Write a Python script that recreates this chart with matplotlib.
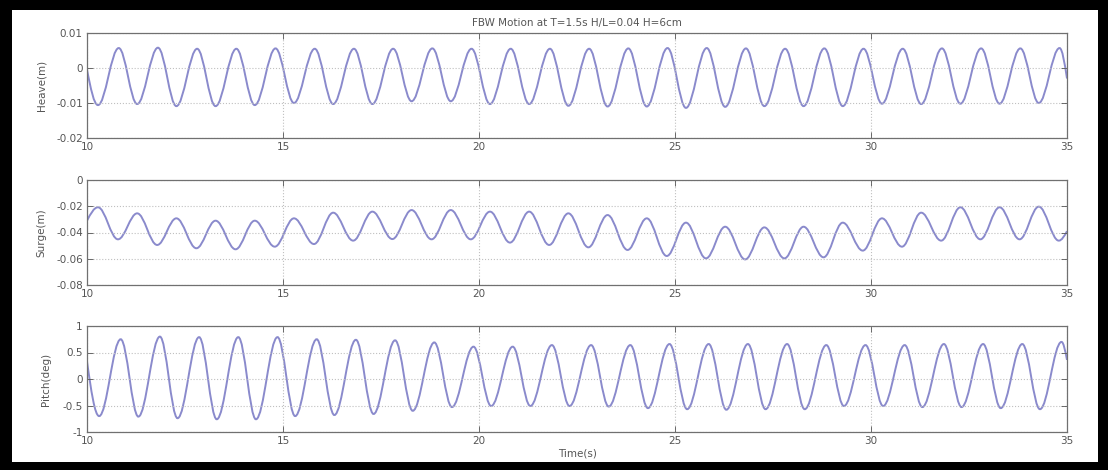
import matplotlib

matplotlib.use("Agg")
import matplotlib.pyplot as plt
import numpy as np
from matplotlib.patches import PathPatch, Rectangle
from matplotlib.path import Path

T_START = 10.0
T_END = 35.0
CYCLE = 1.0

# heave [m]
heave_start = -0.0005
heave_end = -0.003
heave_first_trough = 10.28
heave_first_peak = 10.81
heave_troughs = [
    -0.0106, -0.0103, -0.0109, -0.0109, -0.0106, -0.0100, -0.0103, -0.0103,
    -0.0095, -0.0095, -0.0103, -0.0103, -0.0108, -0.0110, -0.0110, -0.0114,
    -0.0111, -0.0109, -0.0109, -0.0109, -0.0102, -0.0103, -0.0102, -0.0102,
    -0.0100,
]
heave_peaks = [
    0.0057, 0.0058, 0.0055, 0.0055, 0.0056, 0.0055, 0.0055, 0.0055,
    0.0056, 0.0055, 0.0055, 0.0055, 0.0055, 0.0056, 0.0057, 0.0057,
    0.0056, 0.0055, 0.0056, 0.0055, 0.0055, 0.0056, 0.0056, 0.0056,
    0.0057,
]

# surge [m]
surge_start = -0.031
surge_end = -0.039
surge_first_peak = 10.28
surge_first_trough = 10.79
surge_peaks = [
    -0.0208, -0.0254, -0.0292, -0.0310, -0.0310, -0.0292, -0.0249, -0.0241,
    -0.0229, -0.0229, -0.0241, -0.0241, -0.0254, -0.0267, -0.0292, -0.0325,
    -0.0356, -0.0361, -0.0356, -0.0325, -0.0292, -0.0249, -0.0208, -0.0208,
    -0.0203,
]
surge_troughs = [
    -0.0452, -0.0495, -0.0520, -0.0528, -0.0508, -0.0488, -0.0462, -0.0450,
    -0.0452, -0.0452, -0.0477, -0.0495, -0.0513, -0.0533, -0.0579, -0.0597,
    -0.0605, -0.0597, -0.0589, -0.0538, -0.0508, -0.0462, -0.0452, -0.0452,
    -0.0462,
]

# pitch [deg]
pitch_start = 0.33
pitch_end = 0.36
pitch_first_trough = 10.31
pitch_first_peak = 10.86
pitch_troughs = [
    -0.70, -0.71, -0.74, -0.76, -0.76, -0.70, -0.68, -0.66,
    -0.60, -0.53, -0.51, -0.51, -0.51, -0.52, -0.55, -0.57,
    -0.58, -0.57, -0.57, -0.51, -0.51, -0.53, -0.53, -0.55,
    -0.57,
]
pitch_peaks = [
    0.75, 0.80, 0.79, 0.79, 0.79, 0.75, 0.74, 0.73,
    0.69, 0.61, 0.61, 0.64, 0.64, 0.64, 0.66, 0.66,
    0.66, 0.66, 0.64, 0.64, 0.64, 0.66, 0.66, 0.66,
    0.70,
]

x_ticks = [10, 15, 20, 25, 30, 35]
heave_ticks = [-0.02, -0.01, 0, 0.01]
heave_labels = ["-0.02", "-0.01", "0", "0.01"]
surge_ticks = [-0.08, -0.06, -0.04, -0.02, 0]
surge_labels = ["-0.08", "-0.06", "-0.04", "-0.02", "0"]
pitch_ticks = [-1, -0.5, 0, 0.5, 1]
pitch_labels = ["-1", "-0.5", "0", "0.5", "1"]

LINE_COLOUR = "#8a8acc"
TEXT_COLOUR = "#555555"
FONT_SIZE = 7.5
W, H = 1108, 470

# bezier handle for a half cosine between two extrema
K = 0.363


def wave_path(start, first_a, vals_a, first_b, vals_b, end):
    times = np.concatenate(
        [first_a + CYCLE * np.arange(len(vals_a)), first_b + CYCLE * np.arange(len(vals_b))]
    )
    values = np.concatenate([vals_a, vals_b])
    order = np.argsort(times)
    ts = [T_START] + list(times[order]) + [T_END]
    ys = [start] + list(values[order]) + [end]
    flat = [False] + [True] * len(order) + [False]

    verts = [(ts[0], ys[0])]
    codes = [Path.MOVETO]
    for i in range(len(ts) - 1):
        t0, t1, y0, y1 = ts[i], ts[i + 1], ys[i], ys[i + 1]
        dt, dy = t1 - t0, y1 - y0
        c1 = (t0 + K * dt, y0) if flat[i] else (t0 + dt / 3, y0 + 0.52 * dy)
        c2 = (t1 - K * dt, y1) if flat[i + 1] else (t1 - dt / 3, y1 - 0.52 * dy)
        verts += [c1, c2, (t1, y1)]
        codes += [Path.CURVE4] * 3
    return Path(verts, codes)


def style_axis(ax, ylim, yticks, ylabels, ylabel, label_x):
    ax.set_xlim(T_START, T_END)
    ax.set_ylim(*ylim)
    ax.set_xticks(x_ticks)
    ax.set_xticklabels([str(v) for v in x_ticks])
    ax.set_yticks(yticks)
    ax.set_yticklabels(ylabels)
    ax.tick_params(
        direction="in", length=4, width=0.6, top=True, right=True,
        labelsize=FONT_SIZE, colors=TEXT_COLOUR, pad=3,
    )
    for spine in ax.spines.values():
        spine.set_color("#707070")
        spine.set_linewidth(0.9)
    ax.grid(True, linestyle=":", color="#c0c0c0", linewidth=0.8)
    ax.set_ylabel(ylabel, fontsize=FONT_SIZE, color=TEXT_COLOUR)
    ax.yaxis.set_label_coords(label_x, 0.5)


fig = plt.figure(figsize=(W / 100, H / 100), dpi=100, facecolor="black")
fig.patches.append(
    Rectangle((12 / W, 8 / H), 1086 / W, 452 / H, transform=fig.transFigure,
              facecolor="white", edgecolor="none", zorder=-1)
)


def add_axes(top_px, bottom_px):
    return fig.add_axes([87 / W, (H - bottom_px) / H, 980 / W, (bottom_px - top_px) / H])


ax_heave = add_axes(33, 138)
ax_surge = add_axes(180, 285)
ax_pitch = add_axes(326, 432)

series = [
    (ax_heave, heave_start, heave_first_trough, heave_troughs, heave_first_peak, heave_peaks, heave_end),
    (ax_surge, surge_start, surge_first_peak, surge_peaks, surge_first_trough, surge_troughs, surge_end),
    (ax_pitch, pitch_start, pitch_first_trough, pitch_troughs, pitch_first_peak, pitch_peaks, pitch_end),
]
for ax, start, fa, va, fb, vb, end in series:
    path = wave_path(start, fa, va, fb, vb, end)
    ax.add_patch(PathPatch(path, facecolor="none", edgecolor=LINE_COLOUR, linewidth=1.4))

style_axis(ax_heave, (-0.02, 0.01), heave_ticks, heave_labels, "Heave(m)", -0.041)
style_axis(ax_surge, (-0.08, 0), surge_ticks, surge_labels, "Surge(m)", -0.041)
style_axis(ax_pitch, (-1, 1), pitch_ticks, pitch_labels, "Pitch(deg)", -0.037)

ax_heave.set_title("FBW Motion at T=1.5s H/L=0.04 H=6cm", fontsize=FONT_SIZE,
                   color=TEXT_COLOUR, pad=5)
ax_pitch.set_xlabel("Time(s)", fontsize=FONT_SIZE, color=TEXT_COLOUR, labelpad=2)

fig.savefig("out.png", dpi=100, facecolor=fig.get_facecolor())
